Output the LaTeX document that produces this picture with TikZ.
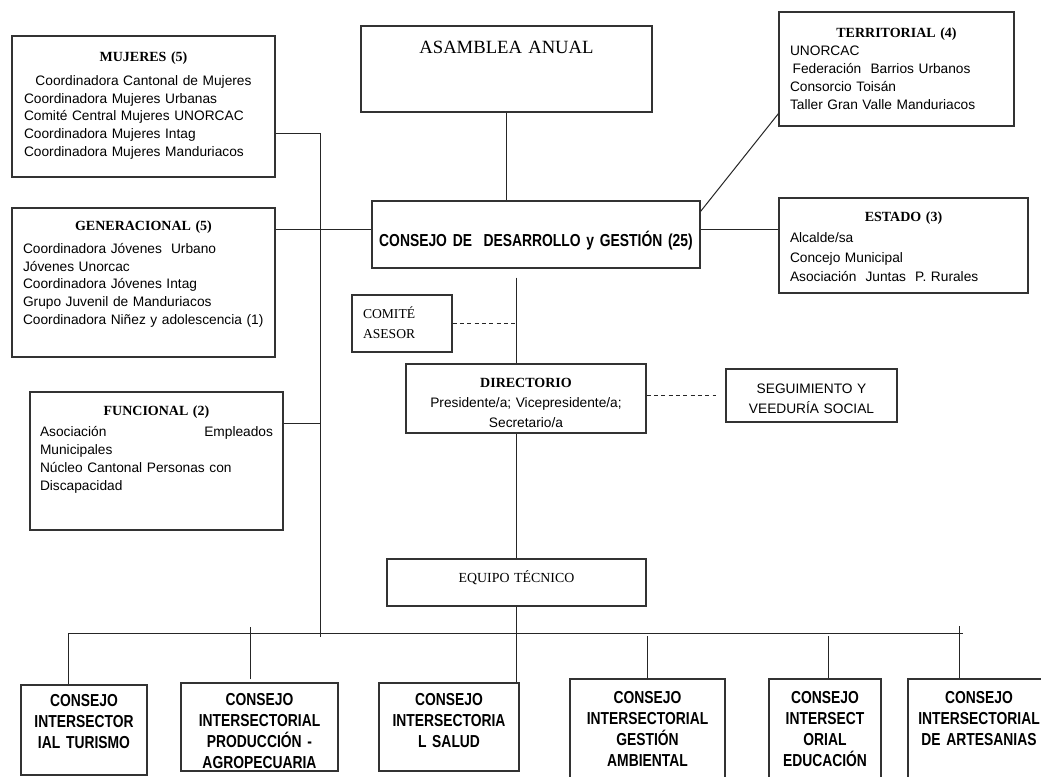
\documentclass[tikz,border=0pt]{standalone}
\usepackage{fontspec}
\setmainfont{Liberation Serif}
\setsansfont{Liberation Sans}
\newfontfamily\narrowsans[FakeStretch=0.8]{Liberation Sans}
\newcommand\hdfont{\rmfamily\bfseries\fontsize{10.5}{13}\selectfont}

\begin{document}
\begin{tikzpicture}[x=0.75pt,y=-0.75pt,
    orgbox/.style={draw=black!80,line width=0.8pt,inner ysep=0pt},
    listbox/.style={orgbox,align=left,font=\sffamily\fontsize{10.3}{13.4}\selectfont},
    council/.style={orgbox,inner xsep=3pt,align=center,
      font=\narrowsans\bfseries\fontsize{13}{15.75}\selectfont},
    wire/.style={line width=0.75pt,black!85},
    dashwire/.style={wire,dash pattern=on 3pt off 2.5pt}]
  \clip (0,0) rectangle (1041,777);
  \fill[white] (0,0) rectangle (1041,777);

  \node[listbox,inner xsep=9pt,text width=179.25pt,text height=19.5pt,text depth=86.25pt]
    (mujeres) at (143.5,106.5)
    {\makebox[\linewidth]{\hdfont MUJERES (5)}\\[4pt]
     \makebox[\linewidth]{Coordinadora Cantonal de Mujeres}\\
     Coordinadora Mujeres Urbanas\\
     Comité Central Mujeres UNORCAC\\
     Coordinadora Mujeres Intag\\
     Coordinadora Mujeres Manduriacos};
  \node[listbox,inner xsep=8.25pt,text width=180.75pt,text height=16.5pt,text depth=95.25pt]
    (generacional) at (143.5,282.5)
    {\makebox[\linewidth]{\hdfont GENERACIONAL (5)}\\[4pt]
     Coordinadora Jóvenes\ \ Urbano\\
     Jóvenes Unorcac\\
     Coordinadora Jóvenes Intag\\
     Grupo Juvenil de Manduriacos\\
     Coordinadora Niñez y adolescencia (1)};
  \node[listbox,inner xsep=7.5pt,text width=174.75pt,text height=17.25pt,text depth=86.25pt]
    (funcional) at (156.5,461)
    {\makebox[\linewidth]{\hdfont FUNCIONAL (2)}\\[3pt]
     Asociación\hfill Empleados\\
     Municipales\\
     Núcleo Cantonal Personas con\\
     Discapacidad};

  \node[orgbox,inner xsep=0pt,text width=218.25pt,text height=21pt,text depth=43.5pt,
    align=center,font=\rmfamily\fontsize{14}{16}\selectfont]
    (asamblea) at (506.5,69) {ASAMBLEA ANUAL};
  \node[orgbox,inner xsep=0pt,text width=246pt,text height=33.75pt,text depth=16.5pt,
    align=center,font=\narrowsans\bfseries\fontsize{13}{15}\selectfont]
    (consejo) at (536,234.5) {CONSEJO DE\ \ DESARROLLO y GESTIÓN (25)};
  \node[orgbox,inner xsep=8.25pt,text width=58.5pt,text height=17.25pt,text depth=25.5pt,
    align=left,font=\rmfamily\fontsize{10.2}{15}\selectfont]
    (comite) at (402,323.5) {COMITÉ\\ASESOR};
  \node[orgbox,inner xsep=5pt,text width=170pt,text height=17.25pt,text depth=34.5pt,
    align=center,font=\sffamily\fontsize{10.3}{15}\selectfont]
    (directorio) at (526,398.5)
    {{\hdfont DIRECTORIO}\\Presidente/a; Vicepresidente/a;\\Secretario/a};
  \node[orgbox,inner xsep=4.125pt,text width=120pt,text height=18pt,text depth=21.75pt,
    align=center,font=\sffamily\fontsize{10.3}{15}\selectfont]
    (seguimiento) at (811.5,395.5) {SEGUIMIENTO Y\\VEEDURÍA SOCIAL};
  \node[orgbox,inner xsep=0pt,text width=194.25pt,text height=17.25pt,text depth=18pt,
    align=center,font=\rmfamily\fontsize{10.4}{13}\selectfont]
    (equipo) at (516.5,582.5) {EQUIPO TÉCNICO};

  \node[listbox,inner xsep=8.25pt,text width=159.75pt,text height=19.5pt,text depth=66pt]
    (territorial) at (896.5,69)
    {\makebox[\linewidth]{\hdfont TERRITORIAL (4)}\\
     UNORCAC\\
     \hspace*{2pt}Federación\ \ Barrios Urbanos\\
     Consorcio Toisán\\
     Taller Gran Valle Manduriacos};
  \node[listbox,inner xsep=8.25pt,text width=170.25pt,text height=18pt,text depth=53.25pt]
    (estado) at (903.5,245.5)
    {\makebox[\linewidth]{\hdfont ESTADO (3)}\\[2.3pt]
     Alcalde/sa\\[1.2pt]
     Concejo Municipal\\[1.2pt]
     Asociación\ \ Juntas\ \ P. Rurales};

  \node[council,text width=88.5pt,text height=15.75pt,text depth=51.75pt]
    (turismo) at (84,730) {CONSEJO\\INTERSECTOR\\IAL TURISMO};
  \node[council,text width=111.75pt,text height=16.5pt,text depth=49.5pt]
    (produccion) at (259.5,727) {CONSEJO\\INTERSECTORIAL\\PRODUCCIÓN -\\AGROPECUARIA};
  \node[council,text width=99pt,text height=16.5pt,text depth=49.5pt]
    (salud) at (449,727) {CONSEJO\\INTERSECTORIA\\L SALUD};
  \node[council,text width=110.25pt,text height=18pt,text depth=69pt]
    (gestion) at (647.5,737) {CONSEJO\\INTERSECTORIAL\\GESTIÓN\\AMBIENTAL};
  \node[council,text width=78pt,text height=18pt,text depth=69pt]
    (educacion) at (825,737) {CONSEJO\\INTERSECT\\ORIAL\\EDUCACIÓN};
  \node[council,text width=100.5pt,text height=18pt,text depth=69pt]
    (artesanias) at (979,737) {CONSEJO\\INTERSECTORIAL\\DE ARTESANIAS};

  \coordinate (cdgL) at ([yshift=3.4pt]consejo.west);
  \coordinate (cdgR) at ([yshift=3.4pt]consejo.east);
  \coordinate (cdgS) at (consejo.south -| equipo.north);
  \coordinate (trunk) at (320,637);
  \coordinate (funC) at ([yshift=28.5pt]funcional.east);
  \coordinate (busW) at (68,633);
  \coordinate (busE) at (963,633);

  \draw[wire] (asamblea.south) -- (asamblea.south |- consejo.north);
  \draw[wire] (cdgL -| generacional.east) -- (cdgL);
  \draw[wire] (cdgR) -- (cdgR -| estado.west);
  \draw[wire] ([yshift=-8.25pt]consejo.north east) -- ([yshift=9.75pt]territorial.south west);
  \draw[wire] ([yshift=-20pt]mujeres.east) -| (trunk);
  \draw[wire] (funC) -- (funC -| trunk);

  \draw[wire] ([yshift=-6.75pt]cdgS) -- (cdgS |- directorio.north);
  \draw[wire] (equipo.north |- directorio.south) -- (equipo.north);
  \draw[wire] (equipo.south) -- (equipo.south |- salud.north);
  \draw[dashwire] (comite.east) -- (comite.east -| cdgS);
  \draw[dashwire] (directorio.east |- seguimiento.west) -- ([xshift=-6.75pt]seguimiento.west);

  \draw[wire] (busW) -- (busE);
  \draw[wire] (busW) -- (busW |- turismo.north);
  \draw[wire] ([shift={(-6.4pt,2.25pt)}]produccion.north) -- ++(0,39pt);
  \draw[wire] (gestion.north) -- ++(0,31.5pt);
  \draw[wire] ([xshift=2.25pt]educacion.north) -- ++(0,31.5pt);
  \draw[wire] ([xshift=-15pt]artesanias.north) -- ++(0,39pt);
\end{tikzpicture}
\end{document}
